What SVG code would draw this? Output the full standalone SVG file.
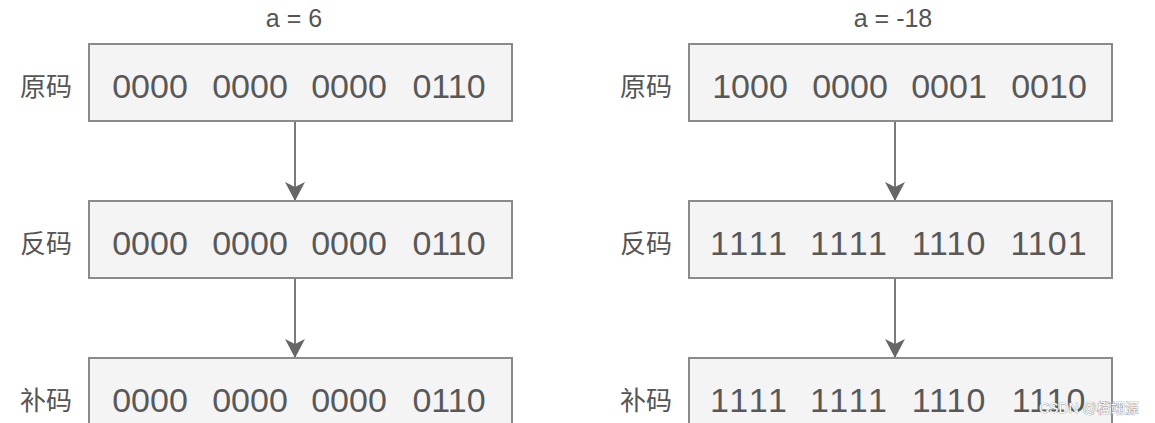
<svg xmlns="http://www.w3.org/2000/svg" width="1155" height="423" viewBox="0 0 1155 423">
<defs>
<style>
.box{fill:#f4f4f4;stroke:#8a8a8a;stroke-width:2}
.bits{font-family:"Liberation Sans",Arial,sans-serif;font-size:34px;fill:#585858;text-anchor:middle}
.lbl{font-family:"Noto Sans CJK SC","Noto Sans",sans-serif;font-size:26px;fill:#555;text-anchor:middle}
.title{font-family:"Liberation Sans",Arial,sans-serif;font-size:25px;fill:#555;text-anchor:middle}
.edge{stroke:#7a7a7a;stroke-width:2;fill:none}
.wm{font-family:"Liberation Sans","Noto Sans CJK SC",sans-serif;font-size:14px;fill:#fff;stroke:#888;stroke-width:0.7;paint-order:stroke}
</style>
<marker id="ah" markerWidth="20" markerHeight="20" viewBox="0 0 20 20" refX="18" refY="10" orient="auto" markerUnits="userSpaceOnUse">
<path d="M0,0 L19,10 L0,20 L5,10 Z" fill="#666"/>
</marker>
</defs>
<rect width="1155" height="423" fill="#fff"/>
<text class="title" x="294" y="27">a = 6</text>
<text class="title" x="893" y="27">a = -18</text>

<g id="connectors">
<line class="edge" x1="295" y1="121" x2="295" y2="200" marker-end="url(#ah)"/>
<line class="edge" x1="295" y1="278" x2="295" y2="357" marker-end="url(#ah)"/>
<line class="edge" x1="895" y1="121" x2="895" y2="200" marker-end="url(#ah)"/>
<line class="edge" x1="895" y1="278" x2="895" y2="357" marker-end="url(#ah)"/>
</g>

<g id="l-orig">
<text class="lbl" x="46" y="96">原码</text>
<rect class="box" x="89" y="44" width="423" height="77"/>
<text class="bits" y="98"><tspan x="150">0000</tspan><tspan x="250">0000</tspan><tspan x="349">0000</tspan><tspan x="449">0110</tspan></text>
</g>
<g id="l-inv">
<text class="lbl" x="46" y="253">反码</text>
<rect class="box" x="89" y="201" width="423" height="77"/>
<text class="bits" y="255"><tspan x="150">0000</tspan><tspan x="250">0000</tspan><tspan x="349">0000</tspan><tspan x="449">0110</tspan></text>
</g>
<g id="l-comp">
<text class="lbl" x="46" y="410">补码</text>
<rect class="box" x="89" y="358" width="423" height="77"/>
<text class="bits" y="412"><tspan x="150">0000</tspan><tspan x="250">0000</tspan><tspan x="349">0000</tspan><tspan x="449">0110</tspan></text>
</g>

<g id="r-orig">
<text class="lbl" x="646" y="96">原码</text>
<rect class="box" x="689" y="44" width="423" height="77"/>
<text class="bits" y="98"><tspan x="750">1000</tspan><tspan x="850">0000</tspan><tspan x="949">0001</tspan><tspan x="1049">0010</tspan></text>
</g>
<g id="r-inv">
<text class="lbl" x="646" y="253">反码</text>
<rect class="box" x="689" y="201" width="423" height="77"/>
<text class="bits" y="255"><tspan x="750" letter-spacing="3">1111</tspan><tspan x="850" letter-spacing="3">1111</tspan><tspan x="949" letter-spacing="1">1110</tspan><tspan x="1049" letter-spacing="1">1101</tspan></text>
</g>
<g id="r-comp">
<text class="lbl" x="646" y="410">补码</text>
<rect class="box" x="689" y="358" width="423" height="77"/>
<text class="bits" y="412"><tspan x="750" letter-spacing="3">1111</tspan><tspan x="850" letter-spacing="3">1111</tspan><tspan x="949" letter-spacing="1">1110</tspan><tspan x="1049" letter-spacing="1">1110</tspan></text>
</g>

<text class="wm" x="1039" y="413">CSDN @橙翊源</text>
</svg>
